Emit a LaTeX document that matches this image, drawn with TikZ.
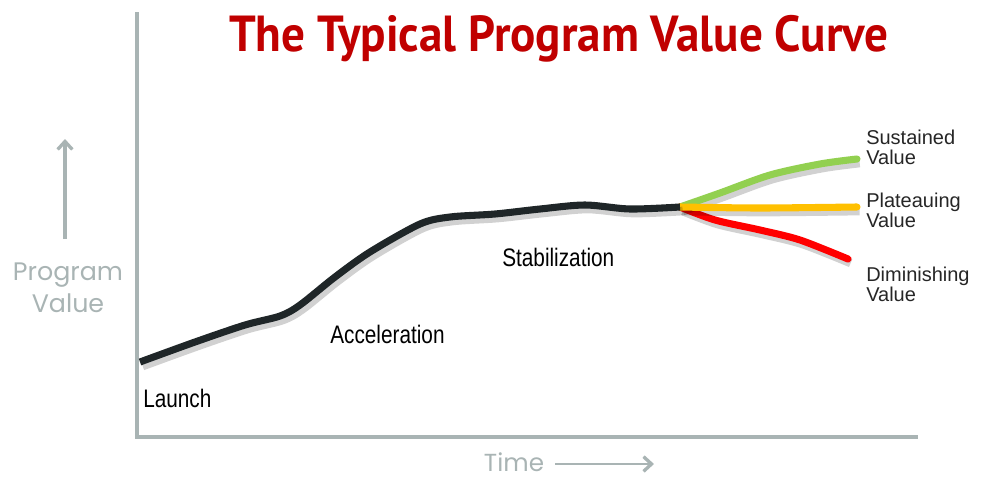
\documentclass[tikz,border=0pt]{standalone}
\usepackage{fontspec}
\setmainfont{Liberation Sans}
\newfontfamily\titlefont[FakeStretch=0.93]{PT Sans}
\newfontfamily\phasefont[FakeStretch=0.82]{Liberation Sans}
\newfontfamily\axisfont{Poppins}
\usepackage{tikz}
\usetikzlibrary{arrows.meta}
\usetikzlibrary{positioning}

\definecolor{axisgray}{HTML}{A9B4B4}
\definecolor{titlered}{HTML}{C00000}
\definecolor{curveblack}{HTML}{1F2628}
\definecolor{sustgreen}{HTML}{92D050}
\definecolor{platyellow}{HTML}{FFC000}
\definecolor{dimred}{HTML}{FF0000}

\tikzset{
    axisline/.style={draw=axisgray,line width=3pt},
    axisarrow/.style={draw=axisgray,line width=2.5pt,-{Straight Barb[length=6pt,width=11pt,line width=2.5pt]}},
    axislabel/.style={text=axisgray,font=\axisfont\fontsize{19}{24}\selectfont,align=center,inner sep=0pt},
    phase/.style={text=black,font=\phasefont\fontsize{19}{22}\selectfont,anchor=base west,inner sep=0pt},
    outcome/.style={text=black!85,font=\fontsize{15}{15}\selectfont,align=left,anchor=west,inner sep=0pt},
    valuecurve/.style={line width=5.3pt,line cap=round,line join=round,
        preaction={draw=black,opacity=0.18,line width=6.5pt,transform canvas={shift={(2pt,-3pt)}}}}
}

\begin{document}
\begin{tikzpicture}[x=0.75pt,y=-0.75pt]
    \useasboundingbox (0,0) rectangle (983,479);

    % title
    \node[text=titlered,font=\titlefont\bfseries\fontsize{38}{40}\selectfont,anchor=base] (title) at (559,51) {The Typical Program Value Curve};

    % axes
    \coordinate (ytop) at (137,12);
    \coordinate (origin) at (137,437);
    \coordinate (xend) at (918,437);
    \draw[axisline] (ytop) -- (origin) -- (xend);

    % axis labels
    \node[axislabel] (prog) at (68,288) {Program\\Value};
    \coordinate (ytail) at (65,239);
    \coordinate (yhead) at (65,139);
    \draw[axisarrow] (ytail) -- (yhead);

    \node[axislabel,font=\axisfont\fontsize{18.5}{22}\selectfont,anchor=base,text depth=0pt] (time) at (514,471) {Time};
    \coordinate (xtail) at (555,464);
    \coordinate (xhead) at (654,464);
    \draw[axisarrow,line width=2pt] (xtail) -- (xhead);

    % outcome branches
    \coordinate (split) at (680,207);
    \draw[valuecurve,dimred] plot[smooth] coordinates {(split) (715,220) (760,230) (800,240) (848,259)};
    \draw[valuecurve,sustgreen] plot[smooth] coordinates {(split) (720,193) (770,175) (820,164) (857,159)};
    \draw[valuecurve,platyellow] plot[smooth] coordinates {(split) (760,208) (857,207)};

    % main curve
    \draw[valuecurve,curveblack,line cap=butt] plot[smooth] coordinates {(140,362) (195,342) (245,325) (280,316) (300,305)
        (335,277) (370,252) (420,224) (450,217) (495,214) (540,209) (585,205) (630,209) (split)};

    % phase labels
    \node[phase] (launch) at (143,407) {Launch};
    \node[phase] (accel) at (330,343) {Acceleration};
    \node[phase] (stab) at (502,266) {Stabilization};

    % outcome labels
    \node[outcome] (sust) at (866,147) {Sustained\\Value};
    \node[outcome] (plat) at (866,210) {Plateauing\\Value};
    \node[outcome] (dimi) at (866,284) {Diminishing\\Value};
\end{tikzpicture}
\end{document}
